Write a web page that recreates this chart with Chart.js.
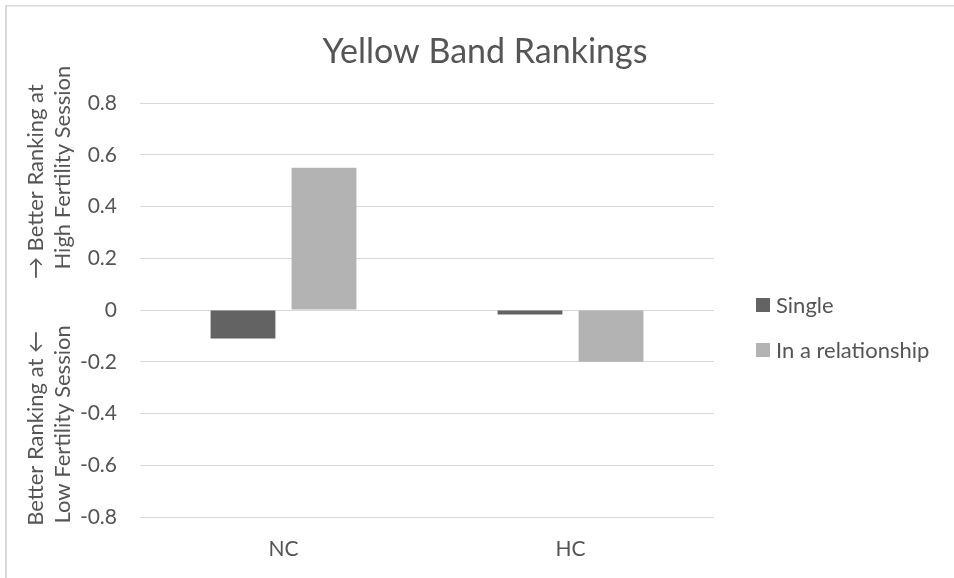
<!DOCTYPE html>
<html>
<head>
<meta charset="utf-8">
<script src="https://cdn.jsdelivr.net/npm/chart.js@4/dist/chart.umd.min.js"></script>
<style>
html, body { margin: 0; padding: 0; overflow: hidden; background: #ffffff; }
canvas { display: block; }
</style>
</head>
<body>
<canvas id="c" width="970" height="578"></canvas>
<script>
const categories = ['NC', 'HC'];
const seriesNames = ['Single', 'In a relationship'];
const singleValues = [-0.11, -0.017];
const relationshipValues = [0.55, -0.2];
const yTickValues = [-0.8, -0.6, -0.4, -0.2, 0, 0.2, 0.4, 0.6, 0.8];
const yTickLabels = ['-0.8', '-0.6', '-0.4', '-0.2', '0', '0.2', '0.4', '0.6', '0.8'];
const chartTitle = 'Yellow Band Rankings';
const upperAxisTitle = ['\u2192 Better Ranking at', 'High Fertility Session'];
const lowerAxisTitle = ['Better Ranking at \u2190', 'Low Fertility Session'];
const seriesColors = ['#636363', '#b3b3b3'];

const FONT = 'Lato, "Open Sans", sans-serif';
const TEXT = '#555555';
const GRID = '#d9d9d9';

const decorPlugin = {
  id: 'decor',
  beforeDraw(chart) {
    const ctx = chart.ctx;
    ctx.save();
    ctx.fillStyle = GRID;
    ctx.fillRect(5, 5, chart.width, 1.5);
    ctx.fillRect(5, 5, 2, chart.height);
    ctx.restore();
  },
  afterDraw(chart) {
    const ctx = chart.ctx;
    const area = chart.chartArea;
    const y = chart.scales.y;
    ctx.save();
    ctx.fillStyle = TEXT;
    // title
    ctx.font = '34px ' + FONT;
    ctx.textAlign = 'center';
    ctx.textBaseline = 'alphabetic';
    ctx.fillText(chartTitle, 485, 63);
    // axis titles (rotated)
    ctx.font = '22px ' + FONT;
    const drawRot = (text, x, cy) => {
      ctx.save();
      ctx.translate(x, cy);
      ctx.rotate(-Math.PI / 2);
      ctx.textAlign = 'center';
      ctx.textBaseline = 'alphabetic';
      ctx.fillText(text, 0, 0);
      ctx.restore();
    };
    const upperC = y.getPixelForValue(0.5);
    const lowerC = y.getPixelForValue(-0.45);
    drawRot(upperAxisTitle[0], 43, upperC + 1);
    drawRot(upperAxisTitle[1], 70, upperC - 13);
    drawRot(lowerAxisTitle[0], 43, lowerC + 2);
    drawRot(lowerAxisTitle[1], 70, lowerC - 2);
    // legend
    const ds = chart.data.datasets;
    const legendX = area.right + 42;
    const legendY0 = 305;
    const gap = 45;
    ds.forEach((d, i) => {
      const cy = legendY0 + i * gap;
      ctx.fillStyle = d.backgroundColor;
      ctx.fillRect(legendX, cy - 7, 14, 14);
      ctx.fillStyle = TEXT;
      ctx.textAlign = 'left';
      ctx.textBaseline = 'alphabetic';
      ctx.fillText(d.label, legendX + 20, cy + 8);
    });
    ctx.restore();
  }
};

new Chart(document.getElementById('c'), {
  type: 'bar',
  data: {
    labels: categories,
    datasets: [
      { label: seriesNames[0], data: singleValues, backgroundColor: seriesColors[0],
        barPercentage: 0.8, categoryPercentage: 0.5645 },
      { label: seriesNames[1], data: relationshipValues, backgroundColor: seriesColors[1],
        barPercentage: 0.8, categoryPercentage: 0.5645 }
    ]
  },
  options: {
    responsive: false,
    animation: false,
    devicePixelRatio: 1,
    layout: { padding: { top: 103, right: 256, bottom: 0, left: 0 } },
    plugins: {
      legend: { display: false },
      title: { display: false },
      tooltip: { enabled: false }
    },
    scales: {
      x: {
        grid: { display: false, drawTicks: false },
        border: { display: false },
        ticks: { color: TEXT, font: { family: FONT, size: 21 }, padding: 20 },
        afterFit(scale) { scale.height = 61; }
      },
      y: {
        min: -0.8,
        max: 0.8,
        grid: { color: GRID, lineWidth: 1, drawTicks: false },
        border: { display: false },
        ticks: {
          color: TEXT,
          font: { family: FONT, size: 21 },
          padding: 23,
          callback: (v, i) => yTickLabels[i]
        },
        afterBuildTicks(scale) { scale.ticks = yTickValues.map(v => ({ value: v })); },
        afterFit(scale) { scale.width = 140; }
      }
    }
  },
  plugins: [decorPlugin]
});
</script>
</body>
</html>
